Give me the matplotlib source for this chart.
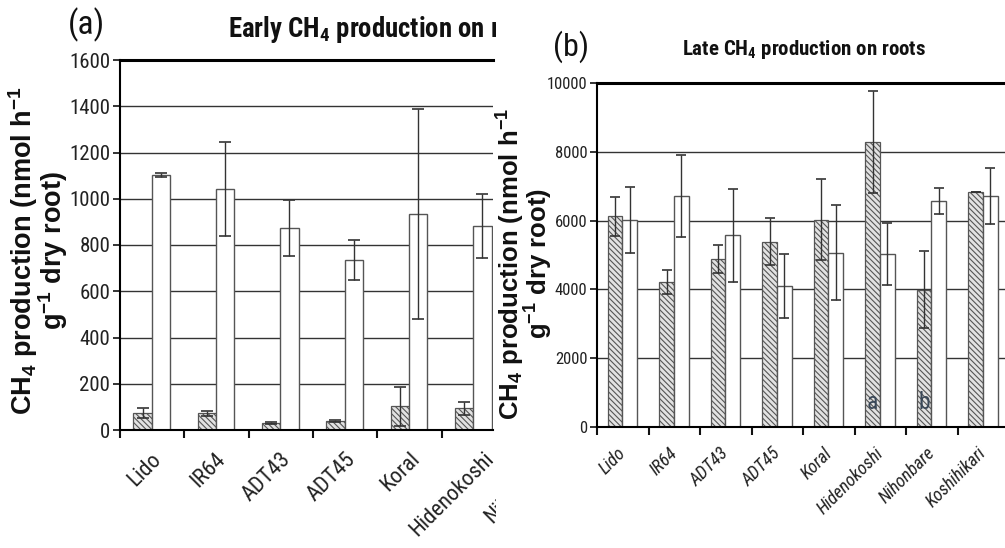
import numpy as np
import matplotlib
matplotlib.use("Agg")
import matplotlib.pyplot as plt
from matplotlib import font_manager as fm
from matplotlib.patches import Rectangle

plt.rcParams['mathtext.default'] = 'regular'
plt.rcParams['hatch.linewidth'] = 0.8

cultivars = ['Lido', 'IR64', 'ADT43', 'ADT45', 'Koral', 'Hidenokoshi',
             'Nihonbare', 'Koshihikari']

# (a) early CH4 production, only the first six cultivars are visible
early_hatched = [72, 72, 29, 40, 103, 93]
early_hatched_err = [21, 12, 5, 4, 84, 28]
early_open = [1103, 1041, 872, 735, 934, 882]
early_open_err = [8, 203, 121, 85, 452, 137]

# (b) late CH4 production
late_hatched = [6120, 4210, 4880, 5390, 6030, 8290, 3990, 6820]
late_hatched_err = [580, 355, 410, 690, 1180, 1490, 1120, 0]
late_open = [6030, 6720, 5570, 4100, 5070, 5030, 6580, 6720]
late_open_err = [960, 1200, 1350, 940, 1390, 910, 380, 810]

late_letters = {'Hidenokoshi': 'a', 'Nihonbare': 'b'}
letter_y = 520


# look for a narrow sans font, the original uses a condensed Helvetica
def is_narrow(f):
    st = f.stretch
    if isinstance(st, str):
        if 'condensed' in st:
            return True
    elif st < 500:
        return True
    return 'Narrow' in f.name or 'Condensed' in f.name


prefer = ['Liberation Sans Narrow', 'Roboto Condensed', 'Roboto',
          'Open Sans Condensed', 'Open Sans', 'Noto Sans Condensed',
          'Noto Sans', 'DejaVu Sans Condensed', 'DejaVu Sans']


def narrow_font(weight=400, italic=False):
    best = None
    for f in fm.fontManager.ttflist:
        if not is_narrow(f) or 'Mono' in f.name or 'Serif' in f.name:
            continue
        rank = prefer.index(f.name) if f.name in prefer else len(prefer)
        w = f.weight if isinstance(f.weight, int) else 400
        score = (rank, abs(w - weight) + (0 if (f.style != 'normal') == italic else 300))
        if best is None or score < best[0]:
            best = (score, f.fname)
    if best is None:
        return fm.FontProperties(family='DejaVu Sans',
                                 weight='bold' if weight > 500 else 'normal',
                                 style='italic' if italic else 'normal')
    return fm.FontProperties(fname=best[1])


nf = narrow_font(400)
nf_bold = narrow_font(700)
nf_ital = narrow_font(400, italic=True)

W, H = 1005, 548
fig = plt.figure(figsize=(W / 100, H / 100), dpi=100)


def box(l, t, r, b):
    return [l / W, 1 - b / H, (r - l) / W, (b - t) / H]


def fx(x, y):
    return x / W, 1 - y / H


def fp(base, size):
    p = base.copy()
    p.set_size(size)
    return p


ax_a = fig.add_axes(box(120, 60, 493, 430))
ax_b = fig.add_axes(box(597, 83, 1005, 427))
ax_a.set_zorder(0)
ax_b.set_zorder(1)


def panel(ax, hatched, h_err, opened, o_err, ymax, step, xmax, cap,
          tick_fs, lab_font, dx, dy):
    x = np.arange(len(hatched))
    ax.bar(x + 0.35, hatched, 0.285, color='#e2e2e2', edgecolor='#555555',
           hatch='\\\\\\\\\\\\', lw=0.9, zorder=2)
    ax.bar(x + 0.635, opened, 0.285, color='white', edgecolor='#555555',
           lw=1.0, zorder=2)
    ax.errorbar(x + 0.35, hatched, yerr=h_err, fmt='none', ecolor='#333333',
                elinewidth=1, capsize=cap, capthick=1.2, zorder=3)
    ax.errorbar(x + 0.635, opened, yerr=o_err, fmt='none', ecolor='#333333',
                elinewidth=1, capsize=cap, capthick=1.2, zorder=3)

    ax.set_xticks(np.arange(len(cultivars)))
    ax.set_xlim(0, xmax)
    ax.set_ylim(0, ymax)
    yt = np.arange(0, ymax + 1, step)
    ax.set_yticks(yt)
    ax.set_yticklabels([str(v) for v in yt], fontproperties=fp(nf, tick_fs),
                       color='#222222')
    ax.tick_params(axis='x', length=6, width=1.5, labelbottom=False,
                   color='#111111')
    ax.tick_params(axis='y', length=5, width=1.2, pad=2, color='#111111')
    ax.grid(axis='y', color='#333333', lw=1.0)
    ax.set_axisbelow(True)
    ax.spines['right'].set_visible(False)
    ax.spines['top'].set_linewidth(2.2)
    ax.spines['left'].set_linewidth(1.5)
    ax.spines['bottom'].set_linewidth(1.5)

    for i, name in enumerate(cultivars):
        ax.text(i + 0.5 + dx(name), -dy, name,
                transform=ax.get_xaxis_transform(),
                rotation=45, rotation_mode='anchor', ha='right', va='top',
                fontproperties=lab_font, color='#222222')


# in (a) the longer names sit a little further right
panel(ax_a, early_hatched, early_hatched_err, early_open, early_open_err,
      1600, 200, 5.80, 4.5, 15, fp(nf, 16),
      lambda s: (-2 + 1.7 * (len(s) - 4)) / 64.3, 0.05)
panel(ax_b, late_hatched, late_hatched_err, late_open, late_open_err,
      10000, 2000, 7.92, 3.5, 12, fp(nf_ital, 13), lambda s: -0.12, 0.05)

for name, letter in late_letters.items():
    i = cultivars.index(name)
    ax_b.text(i + 0.35, letter_y, letter, ha='center', va='baseline',
              fontproperties=fp(nf, 17), color='#3a4858', zorder=4)

# panel (a) is cropped on the right in the source figure
fig.patches.append(Rectangle((496 / W, 0), 1 - 496 / W, 1,
                             transform=fig.transFigure, facecolor='white',
                             edgecolor='none', zorder=0.5))

# titles
ax_a.text(*fx(68, 34), '(a)', transform=fig.transFigure,
          fontproperties=fp(nf, 24), va='baseline', ha='left', color='#111111')
ax_a.text(*fx(228, 37), 'Early CH$_4$ production on roots',
          transform=fig.transFigure, fontproperties=fp(nf_bold, 19.3),
          va='baseline', ha='left', color='#111111')
fig.text(*fx(553, 56), '(b)', fontproperties=fp(nf, 23), va='baseline',
         ha='left', color='#111111', zorder=5)
fig.text(*fx(682, 55), 'Late CH$_4$ production on roots',
         fontproperties=fp(nf_bold, 15), va='baseline', ha='left',
         color='#111111', zorder=5)

ylab = 'CH$_4$ production (nmol h$^{-1}$\ng$^{-1}$ dry root)'
fig.text(*fx(38, 251), ylab, rotation=90, ha='center', va='center',
         multialignment='center', fontsize=19.5, fontweight='bold',
         family='Liberation Sans', linespacing=0.85, color='#111111')
fig.text(*fx(525, 264), ylab, rotation=90, ha='center', va='center',
         multialignment='center', fontsize=18.5, fontweight='bold',
         family='Liberation Sans', linespacing=0.85, color='#111111',
         zorder=5)

fig.savefig('out.png', dpi=100)
